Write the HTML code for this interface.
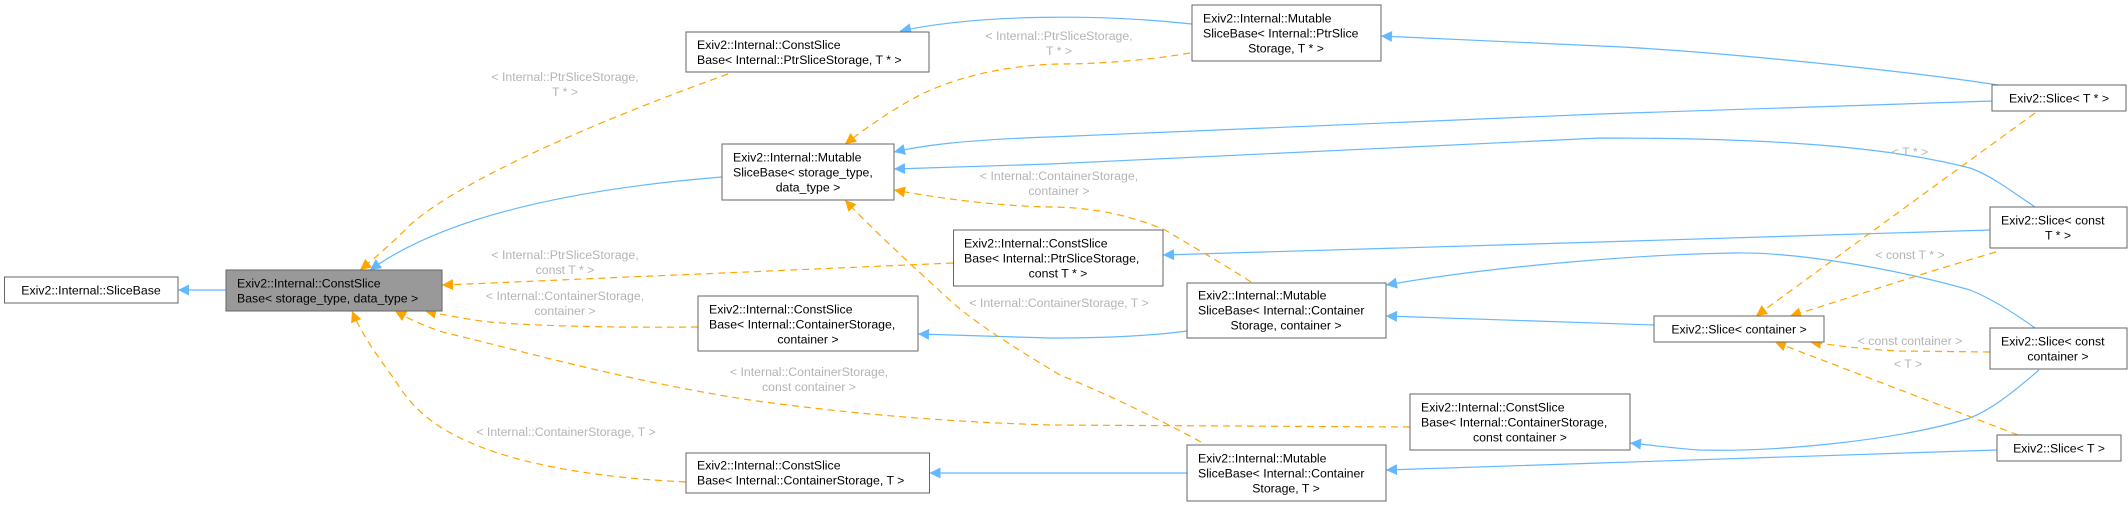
<!DOCTYPE html>
<html><head><meta charset="utf-8"><style>
html,body{margin:0;padding:0;background:#fff;}
svg{display:block;}
text{font-family:"Liberation Sans",Arial,sans-serif;font-size:12.3px;}
.n{fill:#000;}
.l{fill:#b4b4b4;text-anchor:middle;}
.c{text-anchor:middle;}
.bx{fill:#fff;stroke:#666;stroke-width:1;}
.bl{fill:none;stroke:#63b8ff;stroke-width:1.2;}
.or{fill:none;stroke:#ffa500;stroke-width:1.2;stroke-dasharray:7,5;}
</style></head><body>
<svg width="2128" height="506" viewBox="0 0 2128 506" xmlns="http://www.w3.org/2000/svg">
<defs>
<marker id="mb" viewBox="0 0 10 10" refX="10" refY="5" markerWidth="15" markerHeight="11" markerUnits="userSpaceOnUse" orient="auto"><path d="M0,0L10,5L0,10z" fill="#63b8ff"/></marker>
<marker id="mo" viewBox="0 0 10 10" refX="10" refY="5" markerWidth="15" markerHeight="11" markerUnits="userSpaceOnUse" orient="auto"><path d="M0,0L10,5L0,10z" fill="#ffa500"/></marker>
</defs>

<!-- blue edges -->
<path class="bl" marker-end="url(#mb)" d="M226,290 L178,290"/>
<path class="bl" marker-end="url(#mb)" d="M722,177 C560,190 440,220 370,270"/>
<path class="bl" marker-end="url(#mb)" d="M1192,24 C1100,14 980,14 900,31"/>
<path class="bl" marker-end="url(#mb)" d="M1998,85 C1900,70 1700,50 1600,46 L1381,36"/>
<path class="bl" marker-end="url(#mb)" d="M1992,101 L1600,114 L1050,137 C960,140 920,146 894,152"/>
<path class="bl" marker-end="url(#mb)" d="M2035,207 C2010,190 1990,175 1970,168 C1900,150 1800,138 1600,138 L1050,164 L894,169"/>
<path class="bl" marker-end="url(#mb)" d="M1990,230 L1600,242 L1163,255"/>
<path class="bl" marker-end="url(#mb)" d="M2035,328 C2010,310 1990,298 1970,290 C1900,270 1800,252 1736,253 C1650,254 1500,265 1386,285"/>
<path class="bl" marker-end="url(#mb)" d="M1654,325 L1386,316"/>
<path class="bl" marker-end="url(#mb)" d="M1187,331 C1150,336 1100,338 1050,338 L918,334"/>
<path class="bl" marker-end="url(#mb)" d="M2039,370 C2010,395 1990,410 1970,418 C1900,440 1780,452 1700,450 C1680,449 1660,446 1630,443"/>
<path class="bl" marker-end="url(#mb)" d="M1997,450 L1600,463 L1386,470"/>
<path class="bl" marker-end="url(#mb)" d="M1187,473 L929.5,473"/>

<!-- orange edges -->
<path class="or" marker-end="url(#mo)" d="M728,74 C600,120 460,180 410,225 C390,245 375,258 360,270"/>
<path class="or" marker-end="url(#mo)" d="M1190,53 C1150,60 1100,64 1060,64 C1000,65 950,80 920,95 C895,108 870,125 845,144"/>
<path class="or" marker-end="url(#mo)" d="M953,263 L700,274 C600,278 520,282 442,285"/>
<path class="or" marker-end="url(#mo)" d="M698,327 C600,328 520,325 490,322 C470,320 450,316 425,311"/>
<path class="or" marker-end="url(#mo)" d="M1410,427 L1050,425 C950,422 850,414 750,400 C620,380 500,345 446,333 C420,325 408,318 395,311"/>
<path class="or" marker-end="url(#mo)" d="M686,482 C600,478 520,465 469,442 C430,425 410,405 395,380 C380,360 362,335 352,311"/>
<path class="or" marker-end="url(#mo)" d="M1251,282 C1220,262 1190,245 1165,230 C1130,215 1090,207 1050,207 C1000,206 950,200 894,190"/>
<path class="or" marker-end="url(#mo)" d="M1201,442 C1170,425 1110,395 1060,375 C1010,345 970,320 942,293 C915,268 875,232 845,200"/>
<path class="or" marker-end="url(#mo)" d="M2035,113 L1756,316"/>
<path class="or" marker-end="url(#mo)" d="M1996,252 C1900,280 1850,298 1790,316"/>
<path class="or" marker-end="url(#mo)" d="M1990,352 L1900,351 C1870,350 1840,346 1810,342"/>
<path class="or" marker-end="url(#mo)" d="M2018,435 L1775,342"/>

<!-- edge labels -->
<text class="l" x="565" y="81">&lt; Internal::PtrSliceStorage,</text>
<text class="l" x="565" y="96">T * &gt;</text>
<text class="l" x="565" y="259">&lt; Internal::PtrSliceStorage,</text>
<text class="l" x="565" y="274">const T * &gt;</text>
<text class="l" x="565" y="300">&lt; Internal::ContainerStorage,</text>
<text class="l" x="565" y="315">container &gt;</text>
<text class="l" x="566" y="436">&lt; Internal::ContainerStorage, T &gt;</text>
<text class="l" x="809" y="376">&lt; Internal::ContainerStorage,</text>
<text class="l" x="809" y="391">const container &gt;</text>
<text class="l" x="1059" y="40">&lt; Internal::PtrSliceStorage,</text>
<text class="l" x="1059" y="55">T * &gt;</text>
<text class="l" x="1059" y="180">&lt; Internal::ContainerStorage,</text>
<text class="l" x="1059" y="195">container &gt;</text>
<text class="l" x="1059" y="307">&lt; Internal::ContainerStorage, T &gt;</text>
<text class="l" x="1910" y="156">&lt; T * &gt;</text>
<text class="l" x="1910" y="259">&lt; const T * &gt;</text>
<text class="l" x="1910" y="345">&lt; const container &gt;</text>
<text class="l" x="1908" y="368">&lt; T &gt;</text>

<!-- nodes -->
<rect class="bx" x="4.5" y="277" width="173.5" height="26"/>
<text class="n c" x="91" y="294.5">Exiv2::Internal::SliceBase</text>

<rect x="226" y="270" width="216" height="41" fill="#999" stroke="#666"/>
<text class="n" x="237" y="287.5">Exiv2::Internal::ConstSlice</text>
<text class="n" x="237" y="302.5">Base&lt; storage_type, data_type &gt;</text>

<rect class="bx" x="686" y="32" width="243" height="40"/>
<text class="n" x="697" y="49">Exiv2::Internal::ConstSlice</text>
<text class="n" x="697" y="64">Base&lt; Internal::PtrSliceStorage, T * &gt;</text>

<rect class="bx" x="722" y="144" width="172" height="56"/>
<text class="n" x="733" y="161.5">Exiv2::Internal::Mutable</text>
<text class="n" x="733" y="176.5">SliceBase&lt; storage_type,</text>
<text class="n c" x="808" y="191.5">data_type &gt;</text>

<rect class="bx" x="953.5" y="230" width="209.5" height="56"/>
<text class="n" x="964" y="247.5">Exiv2::Internal::ConstSlice</text>
<text class="n" x="964" y="262.5">Base&lt; Internal::PtrSliceStorage,</text>
<text class="n c" x="1058" y="277.5">const T * &gt;</text>

<rect class="bx" x="698" y="296" width="220" height="55"/>
<text class="n" x="709" y="313.5">Exiv2::Internal::ConstSlice</text>
<text class="n" x="709" y="328.5">Base&lt; Internal::ContainerStorage,</text>
<text class="n c" x="808" y="343.5">container &gt;</text>

<rect class="bx" x="686" y="453" width="243.5" height="40"/>
<text class="n" x="697" y="469.5">Exiv2::Internal::ConstSlice</text>
<text class="n" x="697" y="484.5">Base&lt; Internal::ContainerStorage, T &gt;</text>

<rect class="bx" x="1192" y="5" width="189" height="56"/>
<text class="n" x="1203" y="22.5">Exiv2::Internal::Mutable</text>
<text class="n" x="1203" y="37.5">SliceBase&lt; Internal::PtrSlice</text>
<text class="n c" x="1286" y="52.5">Storage, T * &gt;</text>

<rect class="bx" x="1187" y="283" width="199" height="55"/>
<text class="n" x="1198" y="299.5">Exiv2::Internal::Mutable</text>
<text class="n" x="1198" y="314.5">SliceBase&lt; Internal::Container</text>
<text class="n c" x="1286" y="329.5">Storage, container &gt;</text>

<rect class="bx" x="1187" y="445" width="199" height="56"/>
<text class="n" x="1198" y="462.5">Exiv2::Internal::Mutable</text>
<text class="n" x="1198" y="477.5">SliceBase&lt; Internal::Container</text>
<text class="n c" x="1286" y="492.5">Storage, T &gt;</text>

<rect class="bx" x="1410" y="394" width="220" height="56"/>
<text class="n" x="1421" y="411.5">Exiv2::Internal::ConstSlice</text>
<text class="n" x="1421" y="426.5">Base&lt; Internal::ContainerStorage,</text>
<text class="n c" x="1520" y="441.5">const container &gt;</text>

<rect class="bx" x="1654" y="316" width="170" height="26"/>
<text class="n c" x="1739" y="333.5">Exiv2::Slice&lt; container &gt;</text>

<rect class="bx" x="1992" y="85" width="134" height="26"/>
<text class="n c" x="2059" y="102.5">Exiv2::Slice&lt; T * &gt;</text>

<rect class="bx" x="1990" y="207" width="137" height="41"/>
<text class="n" x="2001" y="224.5">Exiv2::Slice&lt; const</text>
<text class="n c" x="2058" y="239.5">T * &gt;</text>

<rect class="bx" x="1990" y="328" width="137" height="41"/>
<text class="n" x="2001" y="345.5">Exiv2::Slice&lt; const</text>
<text class="n c" x="2058" y="360.5">container &gt;</text>

<rect class="bx" x="1997" y="435" width="124" height="26"/>
<text class="n c" x="2059" y="452.5">Exiv2::Slice&lt; T &gt;</text>
</svg>
</body></html>
